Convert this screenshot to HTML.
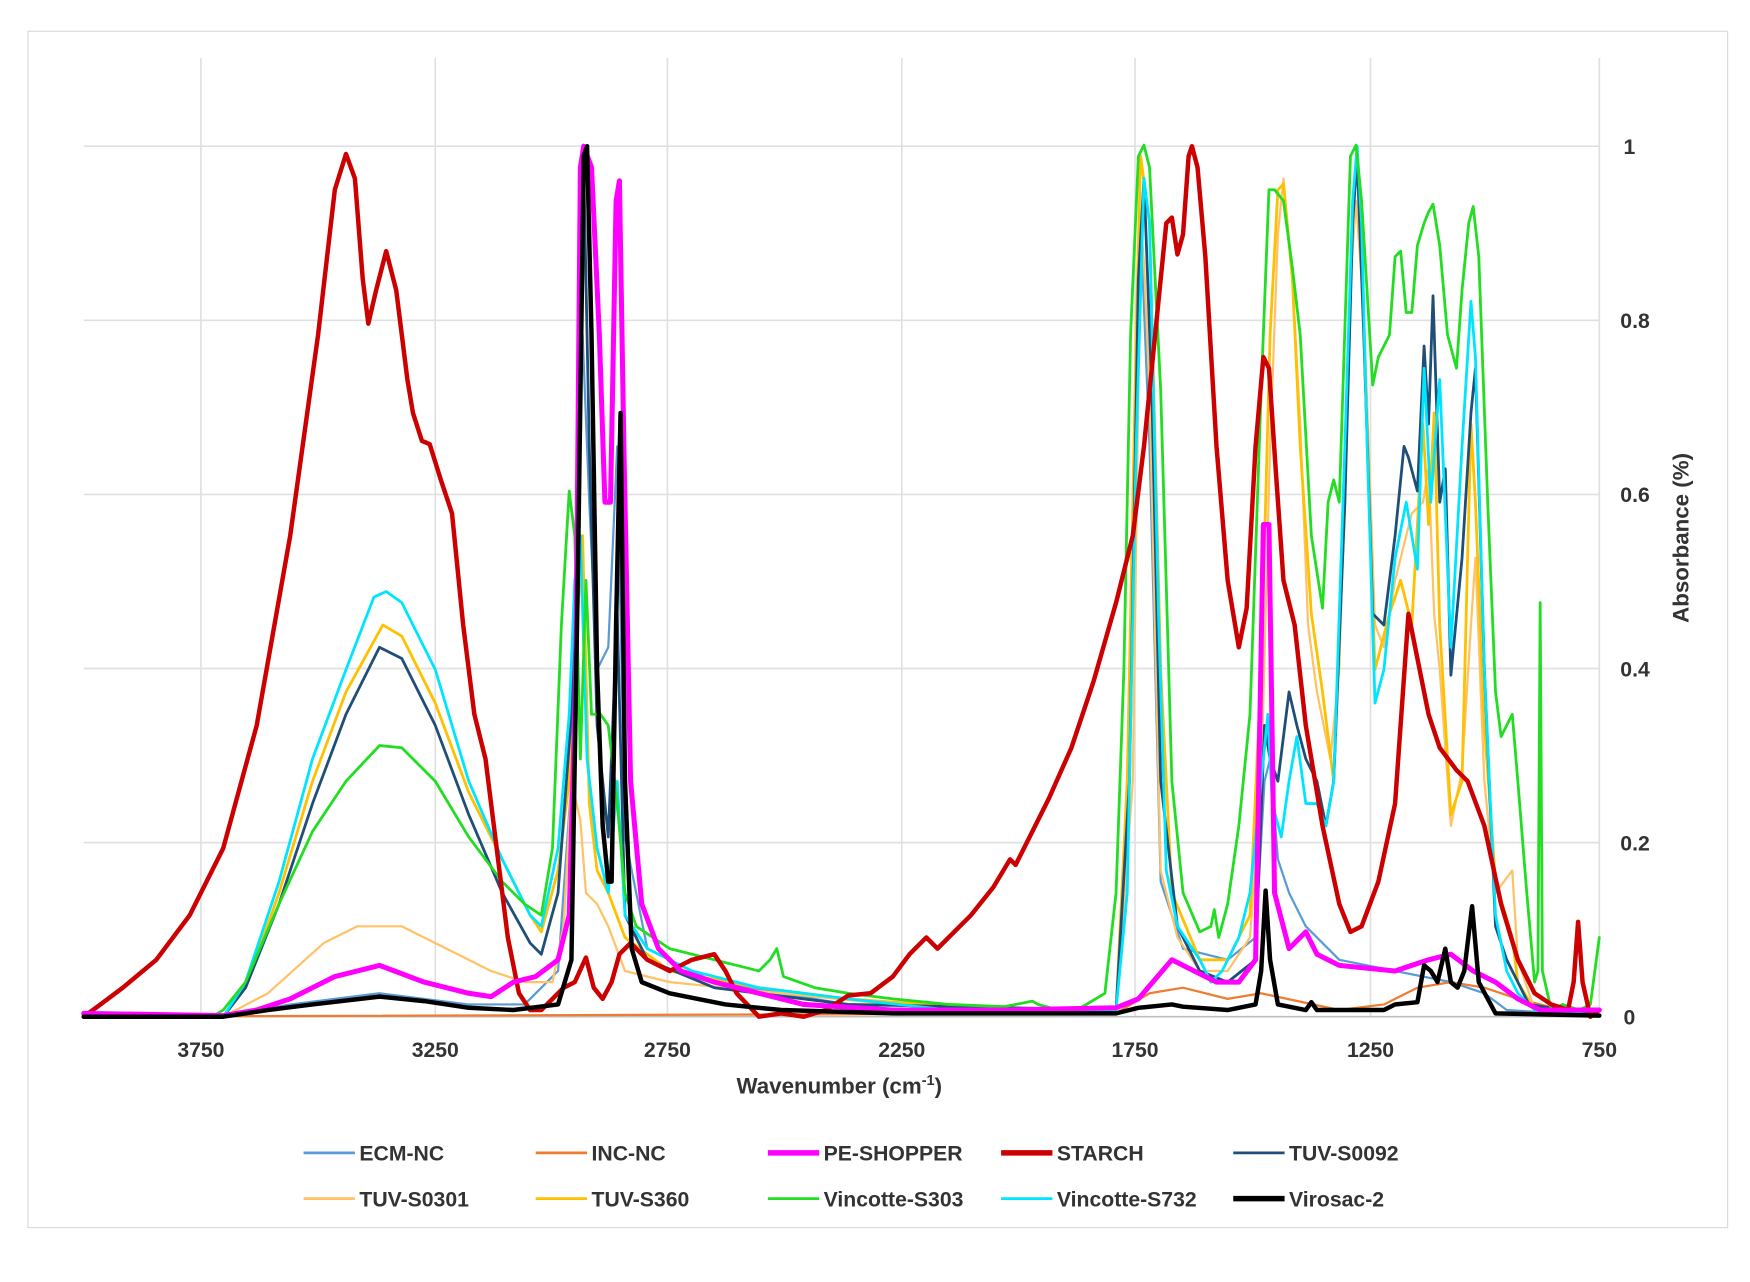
<!DOCTYPE html>
<html><head><meta charset="utf-8"><style>
html,body{margin:0;padding:0;background:#fff;}
svg{display:block;}
text{font-family:"Liberation Sans",Arial,sans-serif;fill:#333;}
</style></head><body>
<svg width="1750" height="1282" viewBox="0 0 1568 1148.7" xmlns="http://www.w3.org/2000/svg">
<rect x="25" y="28" width="1523" height="1072" fill="#fff" stroke="#d9d9d9" stroke-width="1"/>
<g stroke="#e0e0e0" stroke-width="1.5">
<line x1="180" y1="52" x2="180" y2="911"/><line x1="390" y1="52" x2="390" y2="911"/>
<line x1="598" y1="52" x2="598" y2="911"/><line x1="808" y1="52" x2="808" y2="911"/>
<line x1="1017" y1="52" x2="1017" y2="911"/><line x1="1228" y1="52" x2="1228" y2="911"/>
<line x1="1433" y1="52" x2="1433" y2="911"/>
<line x1="75" y1="131" x2="1433" y2="131"/><line x1="75" y1="287" x2="1433" y2="287"/>
<line x1="75" y1="443" x2="1433" y2="443"/><line x1="75" y1="599" x2="1433" y2="599"/>
<line x1="75" y1="755" x2="1433" y2="755"/>
</g>
<line x1="75" y1="911" x2="1433" y2="911" stroke="#bfbfbf" stroke-width="1.5"/>
<g font-size="19" font-weight="bold" text-anchor="middle">
<text x="180" y="947">3750</text><text x="390" y="947">3250</text><text x="598" y="947">2750</text>
<text x="808" y="947">2250</text><text x="1017" y="947">1750</text><text x="1228" y="947">1250</text>
<text x="1433" y="947">750</text>
</g>
<g font-size="19" font-weight="bold" text-anchor="middle">
<text x="1460" y="138">1</text><text x="1465" y="294">0.8</text><text x="1465" y="450">0.6</text>
<text x="1465" y="606">0.4</text><text x="1465" y="762">0.2</text><text x="1460" y="918">0</text>
</g>
<text x="752" y="980" font-size="20" font-weight="bold" text-anchor="middle">Wavenumber (cm<tspan font-size="13" dy="-8">-1</tspan><tspan dy="8">)</tspan></text>
<text transform="translate(1513,482) rotate(-90)" font-size="20" font-weight="bold" text-anchor="middle">Absorbance (%)</text>
<g fill="none" stroke-linejoin="round" stroke-linecap="round">
<polyline stroke="#5b9bd5" stroke-width="2" points="75,911 200,911 260,900 340,890 420,900 470,900 500,870 512,700 518,400 522,300 528,450 535,600 545,580 553,400 560,750 580,850 640,880 760,900 1000,905 1010,800 1018,300 1022,200 1030,400 1040,790 1060,850 1100,860 1125,840 1133,700 1138,680 1145,770 1155,800 1170,830 1200,860 1250,870 1300,880 1330,890 1350,905 1433,910"/>
<polyline stroke="#ed7d31" stroke-width="2" points="75,911 1000,908 1030,890 1060,885 1100,895 1130,890 1200,905 1240,900 1270,885 1300,880 1330,885 1360,895 1400,905 1433,910"/>
<polyline stroke="#ffc266" stroke-width="2" points="75,911 200,911 240,890 290,845 320,830 360,830 400,850 440,870 470,880 495,880 505,830 512,700 520,735 525,800 535,810 545,830 560,870 600,880 700,890 850,905 1000,905 1015,700 1022,200 1025,235 1030,350 1040,780 1055,840 1075,870 1100,870 1120,840 1130,700 1138,400 1145,210 1150,160 1158,250 1165,380 1172,560 1180,620 1192,680 1200,600 1210,250 1215,180 1222,280 1232,560 1240,580 1250,520 1265,460 1275,450 1280,420 1285,550 1290,600 1300,740 1310,690 1318,560 1322,500 1330,700 1340,800 1355,780 1360,860 1375,905 1433,910"/>
<polyline stroke="#ffc000" stroke-width="2.5" points="75,911 200,911 220,885 250,800 280,700 310,620 343,560 360,570 390,630 420,710 450,770 475,820 485,835 500,780 510,700 517,560 522,480 528,720 535,780 545,800 560,840 600,870 680,885 760,895 900,905 1000,905 1010,700 1018,300 1022,140 1030,200 1040,600 1050,800 1075,860 1100,860 1120,820 1130,600 1138,300 1145,170 1150,165 1158,250 1165,400 1175,550 1185,620 1195,700 1205,450 1212,180 1216,140 1222,300 1232,600 1245,550 1255,520 1265,560 1275,380 1280,470 1285,370 1290,560 1300,730 1310,700 1318,380 1322,450 1330,650 1340,790 1355,840 1360,880 1375,905 1433,910"/>
<polyline stroke="#1f4e79" stroke-width="2.5" points="75,911 200,911 220,885 250,810 280,720 310,640 340,580 360,590 390,650 420,730 450,800 475,845 485,855 500,800 512,640 518,470 523,150 528,400 535,650 545,750 553,550 560,820 580,860 640,885 760,900 1000,905 1012,700 1020,250 1025,160 1032,350 1040,700 1055,830 1075,870 1100,880 1125,860 1133,650 1138,680 1145,700 1155,620 1162,650 1170,680 1180,700 1188,740 1195,700 1205,450 1212,200 1216,140 1222,300 1230,550 1240,560 1250,480 1258,400 1262,410 1270,440 1276,310 1280,380 1284,265 1290,450 1295,420 1300,605 1310,500 1318,370 1322,330 1330,600 1340,830 1350,860 1370,900 1433,910"/>
<polyline stroke="#00e5ff" stroke-width="2.5" points="75,911 200,911 220,880 250,790 280,680 310,600 335,535 346,530 360,540 390,600 420,700 450,770 475,820 485,830 500,760 510,640 515,520 520,480 526,680 535,760 545,800 553,700 560,820 580,850 620,870 680,885 760,895 850,905 1000,905 1010,800 1018,400 1025,160 1030,200 1038,550 1045,780 1055,830 1075,860 1085,880 1095,870 1110,840 1120,800 1130,700 1136,640 1140,720 1148,750 1155,700 1162,660 1170,720 1180,720 1188,740 1195,700 1205,400 1212,180 1216,131 1220,200 1225,400 1232,630 1240,600 1250,500 1260,450 1270,510 1276,330 1282,450 1290,340 1300,580 1310,400 1318,270 1322,320 1330,600 1340,820 1350,870 1360,890 1375,905 1433,910"/>
<polyline stroke="#22dd22" stroke-width="2.5" points="75,911 190,911 200,905 220,880 250,810 280,745 310,700 340,668 360,670 390,700 420,750 450,790 470,810 485,820 495,760 503,560 510,440 515,480 520,680 525,520 530,640 538,640 545,650 553,720 560,800 570,830 600,850 640,860 680,870 690,860 696,850 702,875 730,885 760,890 800,895 850,900 900,902 925,897 930,900 960,908 990,890 1000,800 1007,600 1013,300 1020,140 1025,130 1030,150 1040,350 1050,700 1060,800 1075,835 1085,830 1088,815 1092,840 1100,810 1110,740 1120,640 1130,350 1137,170 1142,170 1150,180 1158,240 1165,300 1175,480 1185,545 1190,450 1195,430 1200,450 1210,140 1215,130 1220,180 1230,345 1235,320 1240,310 1245,300 1250,230 1255,225 1260,280 1265,280 1270,220 1276,200 1280,190 1284,183 1290,220 1297,300 1305,330 1310,260 1316,200 1320,185 1325,230 1333,450 1340,620 1345,660 1350,650 1355,640 1360,700 1368,800 1375,880 1378,870 1380,540 1382,870 1390,905 1400,900 1415,905 1425,900 1433,840"/>
<polyline stroke="#cc0000" stroke-width="4" points="75,911 90,900 110,885 140,860 170,820 200,760 230,650 260,480 285,300 300,170 310,138 318,160 325,250 330,290 337,260 346,225 355,260 365,340 370,370 378,395 385,398 395,430 405,460 415,560 425,640 435,680 445,760 455,840 465,890 475,905 485,905 495,895 505,885 515,880 525,858 532,885 540,895 548,880 555,855 565,845 580,860 600,870 620,860 640,855 650,870 660,890 680,911 700,908 720,911 740,905 760,892 780,890 800,875 815,855 830,840 840,850 850,840 870,820 890,795 905,770 910,775 925,745 940,715 960,670 980,610 1000,540 1015,480 1025,400 1035,300 1045,200 1050,195 1055,228 1060,210 1065,140 1068,131 1073,150 1080,230 1090,400 1100,520 1110,580 1117,545 1125,400 1132,320 1137,330 1143,420 1150,520 1160,560 1170,650 1185,740 1200,810 1210,835 1220,830 1235,790 1250,720 1262,550 1268,580 1280,640 1290,670 1305,690 1315,700 1330,740 1345,810 1360,860 1375,890 1390,900 1405,905 1410,880 1414,826 1418,880 1425,911 1433,905"/>
<polyline stroke="#ff00ff" stroke-width="4.5" points="75,908 200,910 230,905 260,895 300,875 340,865 380,880 420,890 440,893 460,880 480,875 500,860 510,820 516,600 520,150 523,131 530,150 537,300 542,450 547,450 552,180 555,162 559,400 565,700 575,810 590,850 610,870 640,880 680,890 720,900 800,905 900,905 1000,903 1020,895 1050,860 1070,870 1090,880 1110,880 1125,860 1132,470 1137,470 1142,800 1155,850 1170,835 1180,855 1200,865 1250,870 1280,860 1300,855 1320,870 1340,880 1360,895 1380,905 1433,905"/>
<polyline stroke="#000" stroke-width="4" points="75,911 200,911 240,905 280,900 340,893 380,897 420,903 460,905 500,900 512,860 518,500 523,140 526,131 530,300 535,600 540,740 545,790 548,790 552,560 556,370 560,700 566,850 575,880 600,890 650,900 700,905 800,908 1000,908 1020,903 1050,900 1060,902 1100,905 1125,900 1130,870 1134,798 1138,860 1145,900 1170,905 1175,898 1180,905 1240,905 1250,900 1270,898 1276,865 1282,870 1288,880 1295,850 1300,880 1306,885 1312,870 1319,812 1325,880 1340,908 1433,910"/>
</g>
<g font-size="19" font-weight="bold">
<line x1="272" y1="1033" x2="318" y2="1033" stroke="#5b9bd5" stroke-width="2.5"/><text x="322" y="1040">ECM-NC</text>
<line x1="480" y1="1033" x2="526" y2="1033" stroke="#ed7d31" stroke-width="2.5"/><text x="530" y="1040">INC-NC</text>
<line x1="688" y1="1033" x2="734" y2="1033" stroke="#ff00ff" stroke-width="5"/><text x="738" y="1040">PE-SHOPPER</text>
<line x1="897" y1="1033" x2="943" y2="1033" stroke="#cc0000" stroke-width="5"/><text x="947" y="1040">STARCH</text>
<line x1="1105" y1="1033" x2="1151" y2="1033" stroke="#1f4e79" stroke-width="2.5"/><text x="1155" y="1040">TUV-S0092</text>
<line x1="272" y1="1074" x2="318" y2="1074" stroke="#ffc266" stroke-width="2.5"/><text x="322" y="1081">TUV-S0301</text>
<line x1="480" y1="1074" x2="526" y2="1074" stroke="#ffc000" stroke-width="2.5"/><text x="530" y="1081">TUV-S360</text>
<line x1="688" y1="1074" x2="734" y2="1074" stroke="#22dd22" stroke-width="2.5"/><text x="738" y="1081">Vincotte-S303</text>
<line x1="897" y1="1074" x2="943" y2="1074" stroke="#00e5ff" stroke-width="2.5"/><text x="947" y="1081">Vincotte-S732</text>
<line x1="1105" y1="1074" x2="1151" y2="1074" stroke="#000" stroke-width="5"/><text x="1155" y="1081">Virosac-2</text>
</g>
</svg>
</body></html>
